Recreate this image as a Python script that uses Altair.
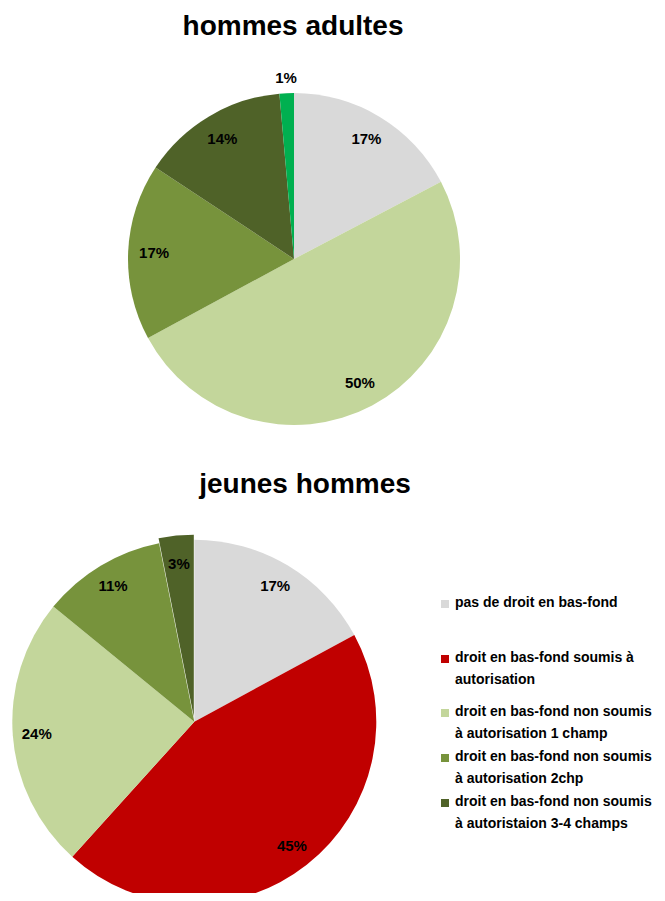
import altair as alt
import pandas as pd

# ---- data ----
categories = [
    "pas de droit en bas-fond",
    "droit en bas-fond soumis à autorisation",
    "droit en bas-fond non soumis à autorisation 1 champ",
    "droit en bas-fond non soumis à autorisation 2chp",
    "droit en bas-fond non soumis à autoristaion 3-4 champs",
    "autre",
]
colors = ["#d9d9d9", "#c00000", "#c3d69b", "#77933c", "#4f6228", "#00b050"]

top_title = "hommes adultes"
top_idx = [0, 2, 3, 4, 5]
top_values = [17.3, 49.8, 17.2, 14.3, 1.4]

bottom_title = "jeunes hommes"
bottom_idx = [0, 1, 2, 3, 4]
bottom_values = [17.1, 44.6, 24.2, 11.0, 3.1]

legend_lines = [
    "pas de droit en bas-fond",
    "droit en bas-fond soumis à\nautorisation",
    "droit en bas-fond non soumis\nà autorisation 1 champ",
    "droit en bas-fond non soumis\nà autorisation 2chp",
    "droit en bas-fond non soumis\nà autoristaion 3-4 champs",
]

# ---- tables ----
def pie_df(idx, vals):
    return pd.DataFrame({
        "idx": idx,
        "cat": [categories[i] for i in idx],
        "v": vals,
        "label": [f"{v:.0f}%" for v in vals],
    })

top_df = pie_df(top_idx, top_values)
bot_df = pie_df(bottom_idx, bottom_values)

color = alt.Color("cat:N", scale=alt.Scale(domain=categories, range=colors), legend=None)
theta = alt.Theta("v:Q", stack=True)
order = alt.Order("idx:Q", sort="ascending")
FONT = "Liberation Sans"

# layout (chart coordinates)
TCX, TCY, TR = 286, 251, 166
BCX, BCY, BR = 186.3, 713.7, 182

top_arc = alt.Chart(top_df).mark_arc(radius=TR).encode(
    theta=theta, color=color, order=order,
    x=alt.value(TCX), y=alt.value(TCY))

top_lab_in = alt.Chart(top_df).mark_text(
    radius=140, font=FONT, fontWeight="bold", fontSize=15, color="black",
    baseline="middle", align="center").encode(
    theta=theta, order=order,
    text=alt.condition("datum.v >= 2", "label:N", alt.value("")),
    x=alt.value(TCX), y=alt.value(TCY))

top_lab_out = alt.Chart(top_df).mark_text(
    radius=181, font=FONT, fontWeight="bold", fontSize=15, color="black",
    baseline="middle", align="center").encode(
    theta=theta, order=order,
    text=alt.condition("datum.v < 2", "label:N", alt.value("")),
    x=alt.value(TCX), y=alt.value(TCY))

bot_arc = alt.Chart(bot_df).mark_arc(radius=BR).encode(
    theta=theta, color=color, order=order,
    fillOpacity=alt.condition("datum.idx == 4", alt.value(0), alt.value(1)),
    x=alt.value(BCX), y=alt.value(BCY))

bot_arc_explode = alt.Chart(bot_df).mark_arc(radius=BR).encode(
    theta=theta, color=color, order=order,
    fillOpacity=alt.condition("datum.idx == 4", alt.value(1), alt.value(0)),
    x=alt.value(BCX - 0.5), y=alt.value(BCY - 5))

bot_lab = alt.Chart(bot_df).mark_text(
    radius=158, font=FONT, fontWeight="bold", fontSize=15, color="black",
    baseline="middle", align="center").encode(
    theta=theta, order=order, text="label:N",
    x=alt.value(BCX), y=alt.value(BCY))

def title_layer(txt, x, y):
    return alt.Chart(pd.DataFrame({"t": [txt]})).mark_text(
        font=FONT, fontWeight="bold", fontSize=28, color="black",
        align="center", baseline="alphabetic").encode(
        text="t:N", x=alt.value(x), y=alt.value(y))

t1 = title_layer(top_title, 285, 27)
t2 = title_layer(bottom_title, 297, 485)

legend_y = [596, 651, 705, 750, 795]
legend_layers = []
for i, (cat, txt) in enumerate(zip(categories[:5], legend_lines)):
    d = pd.DataFrame({"cat": [cat], "txt": [txt]})
    legend_layers.append(
        alt.Chart(d).mark_square(size=64, opacity=1).encode(
            color=color, x=alt.value(437), y=alt.value(legend_y[i])))
    legend_layers.append(
        alt.Chart(d).mark_text(
            font=FONT, fontWeight="bold", fontSize=14, color="black",
            align="left", baseline="top", lineBreak="\n", lineHeight=22).encode(
            text="txt:N", x=alt.value(447), y=alt.value(legend_y[i] - 8)))

chart = alt.layer(
    top_arc, top_lab_in, top_lab_out,
    bot_arc, bot_arc_explode, bot_lab,
    t1, t2, *legend_layers,
).resolve_scale(theta="independent").properties(
    width=649, height=885, padding=0, autosize="none"
).configure_view(stroke=None)

chart.save("out.html", embed_options={"renderer": "svg", "actions": False})
